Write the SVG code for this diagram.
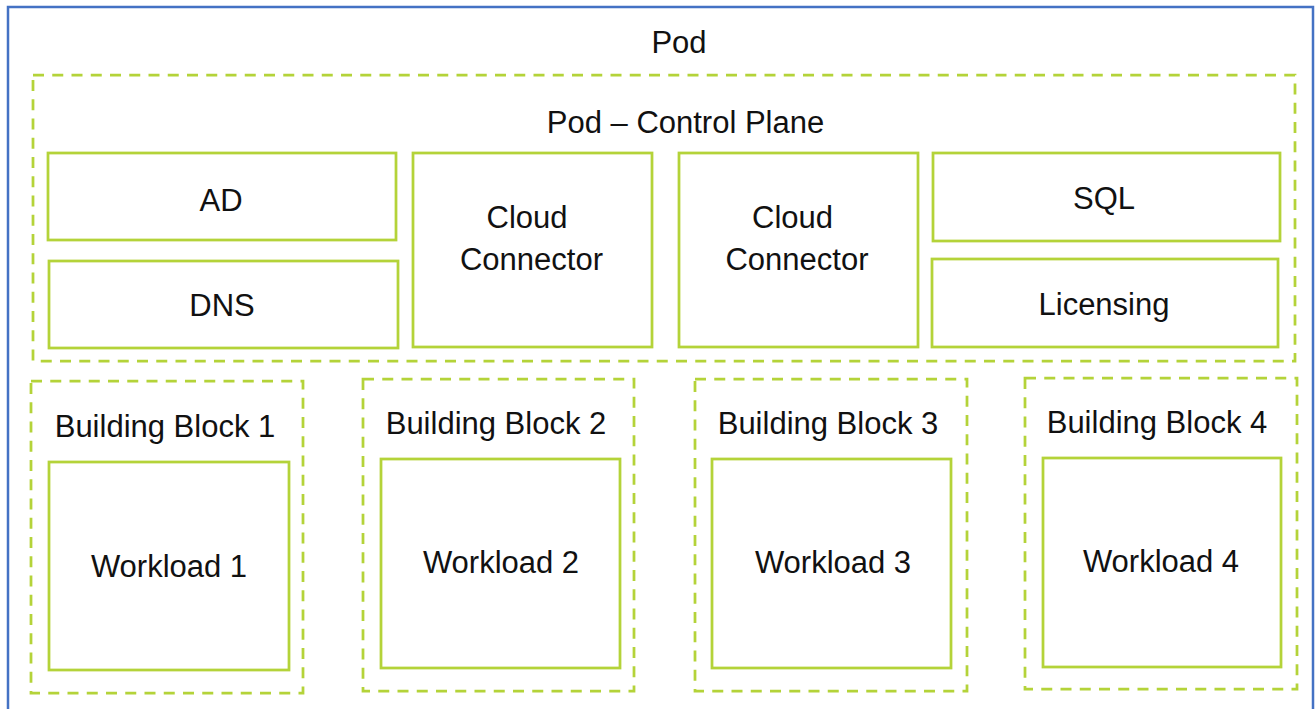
<svg xmlns="http://www.w3.org/2000/svg" width="1315" height="709" viewBox="0 0 1315 709">
<style>
  .bg { fill: #ffffff; }
  .pod { fill: none; stroke: #4472C4; stroke-width: 2.5; }
  .dash { fill: none; stroke: #B4D339; stroke-width: 2.75; stroke-dasharray: 11 8.25; }
  .box { fill: #ffffff; stroke: #B4D339; stroke-width: 2.75; }
  text { font-family: "Liberation Sans", Arial, sans-serif; font-size: 31px; fill: #111111; text-anchor: middle; }
</style>
<rect class="bg" x="0" y="0" width="1315" height="709"/>
<g id="pod">
  <rect class="pod" x="8" y="7" width="1305" height="720"/>
  <text x="679" y="53">Pod</text>
</g>
<g id="control-plane">
  <rect class="dash" x="33" y="75" width="1262" height="286"/>
  <text x="685.5" y="133">Pod – Control Plane</text>
</g>
<g id="ad">
  <rect class="box" x="48" y="153" width="348" height="87"/>
  <text x="221" y="211">AD</text>
</g>
<g id="dns">
  <rect class="box" x="49" y="261" width="349" height="87"/>
  <text x="222" y="316">DNS</text>
</g>
<g id="cloud-connector-1">
  <rect class="box" x="413" y="153" width="239" height="194"/>
  <text x="527" y="228">Cloud</text>
  <text x="531.5" y="270">Connector</text>
</g>
<g id="cloud-connector-2">
  <rect class="box" x="679" y="153" width="239" height="194"/>
  <text x="792.5" y="228">Cloud</text>
  <text x="797" y="270">Connector</text>
</g>
<g id="sql">
  <rect class="box" x="933" y="153" width="347" height="88"/>
  <text x="1104" y="209">SQL</text>
</g>
<g id="licensing">
  <rect class="box" x="932" y="259" width="346" height="88"/>
  <text x="1104" y="315">Licensing</text>
</g>
<g id="building-block-1">
  <rect class="dash" x="31" y="381" width="272" height="312"/>
  <text x="165" y="437">Building Block 1</text>
</g>
<g id="workload-1">
  <rect class="box" x="49" y="462" width="240" height="208"/>
  <text x="169" y="577">Workload 1</text>
</g>
<g id="building-block-2">
  <rect class="dash" x="363" y="379" width="271" height="312"/>
  <text x="496" y="434">Building Block 2</text>
</g>
<g id="workload-2">
  <rect class="box" x="381" y="459" width="239" height="209"/>
  <text x="501" y="573">Workload 2</text>
</g>
<g id="building-block-3">
  <rect class="dash" x="695" y="379" width="272" height="312"/>
  <text x="828" y="434">Building Block 3</text>
</g>
<g id="workload-3">
  <rect class="box" x="712" y="459" width="239" height="209"/>
  <text x="833" y="573">Workload 3</text>
</g>
<g id="building-block-4">
  <rect class="dash" x="1025" y="378" width="272" height="311"/>
  <text x="1157" y="433">Building Block 4</text>
</g>
<g id="workload-4">
  <rect class="box" x="1043" y="458" width="238" height="209"/>
  <text x="1161" y="572">Workload 4</text>
</g>
<g id="connectors"></g>
</svg>
